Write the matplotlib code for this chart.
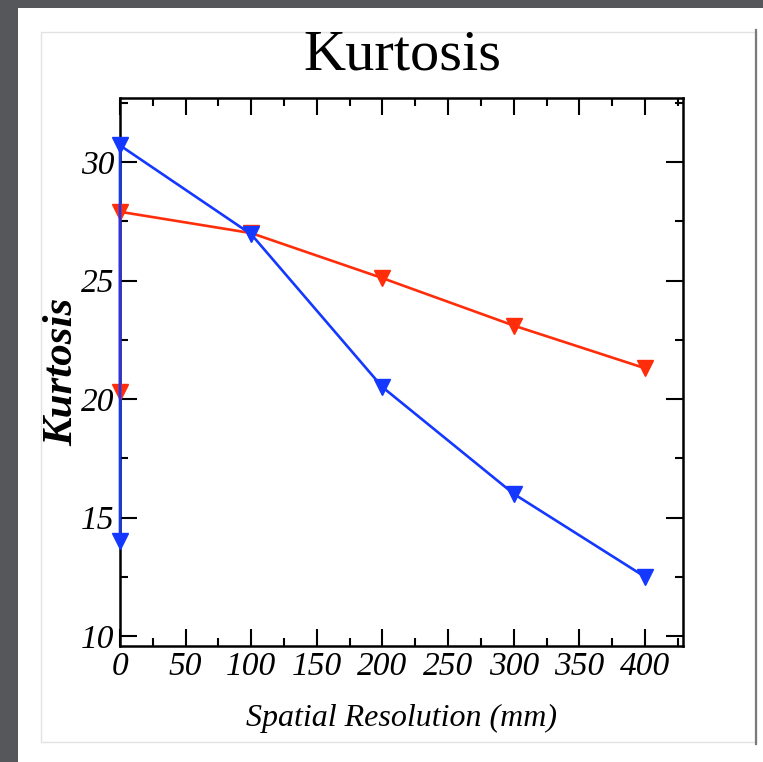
import matplotlib.pyplot as plt
from matplotlib.patches import Rectangle
from matplotlib.lines import Line2D
from matplotlib.ticker import MultipleLocator

red_x = [0, 0, 100, 200, 300, 400]
red_y = [20.3, 27.9, 27.0, 25.1, 23.1, 21.3]
blue_x = [0, 0, 100, 200, 300, 400]
blue_y = [14.0, 30.7, 26.95, 20.5, 16.0, 12.5]

W, H = 763, 762
fig = plt.figure(figsize=(W / 100, H / 100), dpi=100)
fig.patch.set_facecolor('#55575a')


def px(x, y):
    # pixel (from top-left) -> figure fraction
    return x / W, 1 - y / H


# white slide area + framed panel
x0, y0 = px(18, 762)
fig.add_artist(Rectangle((x0, y0), (W - 18) / W, 754 / H, transform=fig.transFigure,
                         facecolor='white', edgecolor='none', zorder=0))
x0, y0 = px(41, 742)
fig.add_artist(Rectangle((x0, y0), (756 - 41) / W, (742 - 32) / H, transform=fig.transFigure,
                         facecolor='white', edgecolor='#e2e2e2', lw=1, zorder=0))
fig.add_artist(Line2D([756 / W, 756 / W], [1 - 30 / H, 1 - 744 / H], transform=fig.transFigure,
                      color='#7a7a7a', lw=1.6, zorder=1))

ax = fig.add_axes([120 / W, 1 - 646 / H, 563 / W, 548 / H])

ax.plot(red_x, red_y, color='#ff2d0a', lw=1.9, marker='v', markersize=11, clip_on=False, zorder=3)
ax.plot(blue_x, blue_y, color='#1438ff', lw=1.9, marker='v', markersize=11, clip_on=False, zorder=4)

ax.set_xlim(0, 429)
ax.set_ylim(9.58, 32.7)
ax.xaxis.set_major_locator(MultipleLocator(50))
ax.xaxis.set_minor_locator(MultipleLocator(25))
ax.yaxis.set_major_locator(MultipleLocator(5))
ax.yaxis.set_minor_locator(MultipleLocator(2.5))
ax.tick_params(which='both', direction='in', top=True, right=True, width=1.5, color='black')
ax.tick_params(which='major', length=12, pad=4)
ax.tick_params(which='minor', length=5.5)
for s in ax.spines.values():
    s.set_linewidth(1.8)

for lab in ax.get_xticklabels() + ax.get_yticklabels():
    lab.set_fontfamily('Liberation Serif')
    lab.set_fontstyle('italic')
    lab.set_fontsize(24)

ax.set_xlabel('Spatial Resolution (mm)', fontfamily='Liberation Serif', fontstyle='italic',
              fontsize=23, va='center')
ax.xaxis.set_label_coords(0.5, -0.133)
ax.set_ylabel('Kurtosis', fontfamily='Liberation Serif', fontstyle='italic',
              fontweight='bold', fontsize=31, va='center')
ax.yaxis.set_label_coords(-0.102, 0.5)

tx, ty = px(402, 56)
fig.text(tx, ty, 'Kurtosis', ha='center', va='center', fontfamily='Liberation Serif', fontsize=42)

fig.savefig('out.png', dpi=100, facecolor=fig.get_facecolor())
